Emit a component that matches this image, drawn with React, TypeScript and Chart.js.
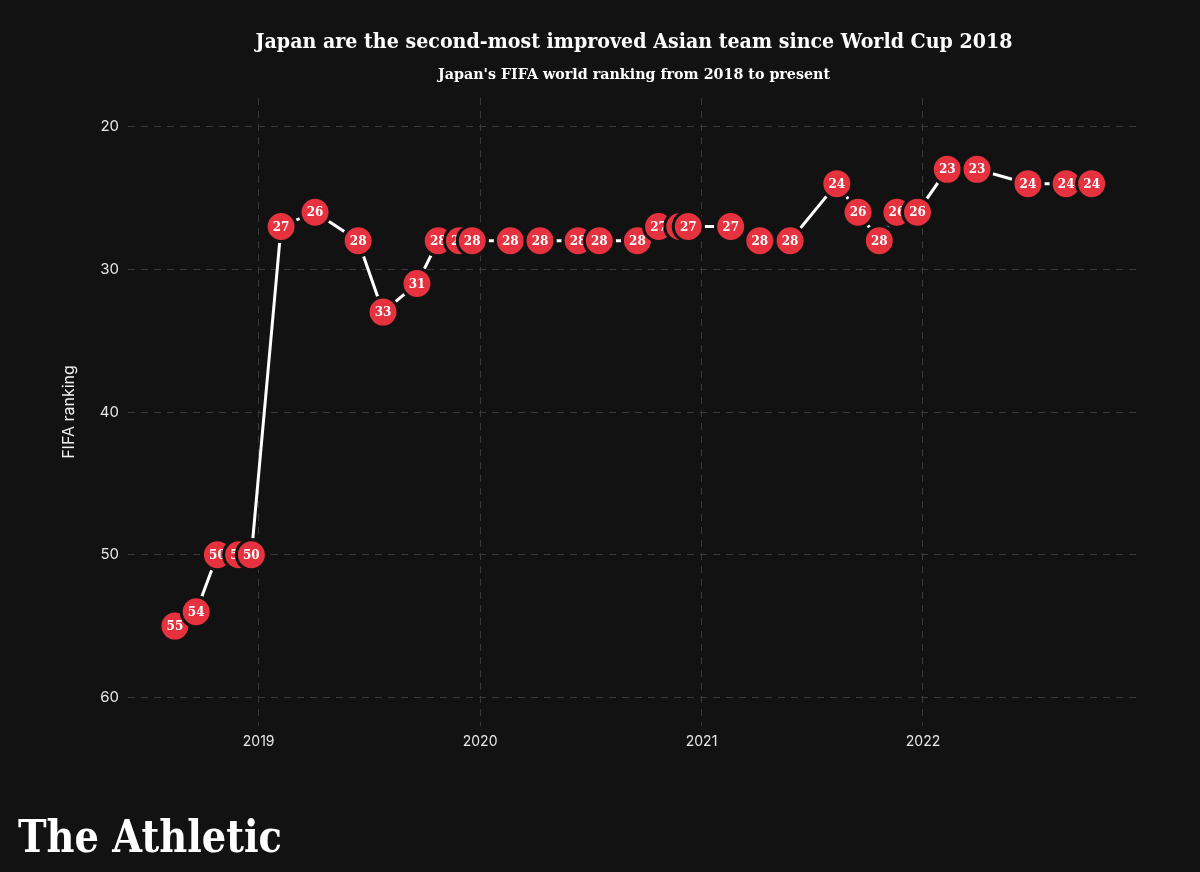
import React, { useEffect, useRef } from "react";
import { Chart, registerables } from "chart.js";

Chart.register(...registerables);

// FIFA ranking release dates (2018 → 2022)
const releaseDates: string[] = [
  "2018-08-16", "2018-09-20", "2018-10-25", "2018-11-29", "2018-12-20",
  "2019-02-07", "2019-04-04", "2019-06-14", "2019-07-25", "2019-09-19", "2019-10-24", "2019-11-28", "2019-12-19",
  "2020-02-20", "2020-04-09", "2020-06-11", "2020-07-16", "2020-09-17", "2020-10-22", "2020-11-26", "2020-12-10",
  "2021-02-18", "2021-04-07", "2021-05-27", "2021-08-12", "2021-09-16", "2021-10-21", "2021-11-19", "2021-12-23",
  "2022-02-10", "2022-03-31", "2022-06-23", "2022-08-25", "2022-10-06",
];

// Japan's FIFA ranking at each release
const japanRanks: number[] = [
  55, 54, 50, 50, 50,
  27, 26, 28, 33, 31, 28, 28, 28,
  28, 28, 28, 28, 28, 27, 27, 27,
  27, 28, 28, 24, 26, 28, 26, 26,
  23, 23, 24, 24, 24,
];

const yTickValues: number[] = [20, 30, 40, 50, 60];
const xTickYears: number[] = [2019, 2020, 2021, 2022];

const TITLE = "Japan are the second-most improved Asian team since World Cup 2018";
const SUBTITLE = "Japan's FIFA world ranking from 2018 to present";
const Y_TITLE = "FIFA ranking";
const LOGO = "The Athletic";

const BG = "#121212";
const RED = "#e6323e";
const GRID = "#3a3a3a";
const TICK = "#e8e8e8";

function decimalYear(s: string): number {
  const [y, m, d] = s.split("-").map(Number);
  const start = Date.UTC(y, 0, 1);
  const end = Date.UTC(y + 1, 0, 1);
  return y + (Date.UTC(y, m - 1, d) - start) / (end - start);
}

function fitText(
  ctx: CanvasRenderingContext2D,
  text: string,
  x: number,
  y: number,
  target: number,
  align: CanvasTextAlign
) {
  const w = ctx.measureText(text).width;
  const s = target / w;
  ctx.save();
  ctx.translate(x, y);
  ctx.scale(s, 1);
  ctx.textAlign = align;
  ctx.fillText(text, 0, 0);
  ctx.restore();
}

const labelPlugin = {
  id: "pointLabels",
  afterDatasetsDraw(chart: any) {
    const ctx: CanvasRenderingContext2D = chart.ctx;
    const meta = chart.getDatasetMeta(0);
    const ds = chart.data.datasets[0];
    ctx.save();
    meta.data.forEach((pt: any, i: number) => {
      pt.draw(ctx, chart.chartArea);
      ctx.fillStyle = "#ffffff";
      ctx.font = "bold 12px 'DejaVu Serif'";
      ctx.textAlign = "center";
      ctx.textBaseline = "middle";
      ctx.fillText(String(ds.data[i].y), pt.x, pt.y + 1);
    });
    ctx.restore();
  },
};

const textPlugin = {
  id: "decorText",
  afterDraw(chart: any) {
    const ctx: CanvasRenderingContext2D = chart.ctx;
    const area = chart.chartArea;
    const cx = (area.left + area.right) / 2;
    ctx.save();
    ctx.fillStyle = "#ffffff";
    ctx.textBaseline = "alphabetic";
    ctx.font = "bold 21px 'DejaVu Serif'";
    fitText(ctx, TITLE, cx, 48, 757, "center");
    ctx.font = "bold 15px 'DejaVu Serif'";
    fitText(ctx, SUBTITLE, cx, 79, 392, "center");

    // y axis title
    ctx.save();
    ctx.translate(69, (area.top + area.bottom) / 2);
    ctx.rotate(-Math.PI / 2);
    ctx.font = "16px Inter, 'Noto Sans', sans-serif";
    ctx.fillStyle = "#f0f0f0";
    ctx.textAlign = "center";
    ctx.textBaseline = "middle";
    ctx.fillText(Y_TITLE, 0, 0);
    ctx.restore();

    // logo
    ctx.fillStyle = "#ffffff";
    ctx.font = "bold 45px 'DejaVu Serif'";
    ctx.textBaseline = "alphabetic";
    fitText(ctx, LOGO, 18, 852, 264, "left");
    ctx.restore();
  },
};

export default function App() {
  const canvasRef = useRef<HTMLCanvasElement | null>(null);

  useEffect(() => {
    if (!canvasRef.current) return;
    const points = releaseDates.map((d, i) => ({ x: decimalYear(d), y: japanRanks[i] }));
    const chart = new Chart(canvasRef.current, {
      type: "line",
      data: {
        datasets: [
          {
            data: points,
            borderColor: "#ffffff",
            borderWidth: 3,
            pointRadius: 15,
            pointHoverRadius: 15,
            pointBackgroundColor: RED,
            pointBorderColor: BG,
            pointBorderWidth: 3,
            tension: 0,
            clip: false as any,
          },
        ],
      },
      options: {
        responsive: false,
        animation: false,
        events: [],
        layout: { padding: { top: 98, right: 60, left: 0, bottom: 0 } },
        plugins: {
          legend: { display: false },
          tooltip: { enabled: false },
          title: { display: false },
        },
        scales: {
          x: {
            type: "linear",
            min: 2018.41,
            max: 2022.98,
            afterFit: (s: any) => {
              s.height = 146;
            },
            afterBuildTicks: (s: any) => {
              s.ticks = xTickYears.map((v) => ({ value: v }));
            },
            ticks: {
              color: TICK,
              font: { family: "Inter, 'Noto Sans', sans-serif", size: 14 },
              padding: 7,
              maxRotation: 0,
              autoSkip: false,
              callback: (v: any) => String(v),
            },
            grid: { color: GRID, lineWidth: 1, drawTicks: false },
            border: { display: false, dash: [7, 6] },
          },
          y: {
            type: "linear",
            reverse: true,
            min: 18,
            max: 62,
            afterFit: (s: any) => {
              s.width = 128;
            },
            afterBuildTicks: (s: any) => {
              s.ticks = yTickValues.map((v) => ({ value: v }));
            },
            ticks: {
              color: TICK,
              font: { family: "Inter, 'Noto Sans', sans-serif", size: 15 },
              padding: 9,
              callback: (v: any) => String(v),
            },
            grid: { color: GRID, lineWidth: 1, drawTicks: false },
            border: { display: false, dash: [7, 6] },
          },
        },
      },
      plugins: [labelPlugin, textPlugin],
    });
    return () => chart.destroy();
  }, []);

  return (
    <div
      style={{
        position: "absolute",
        left: 0,
        top: 0,
        width: 1200,
        height: 872,
        background: BG,
        overflow: "hidden",
      }}
    >
      <canvas ref={canvasRef} width={1200} height={872} style={{ display: "block" }} />
    </div>
  );
}
